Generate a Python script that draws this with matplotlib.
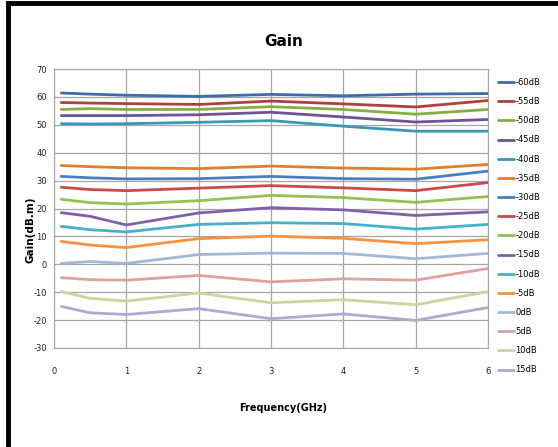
import matplotlib
matplotlib.use('Agg')
import matplotlib.pyplot as plt
from matplotlib.patches import Rectangle

plt.rcParams['font.family'] = ['DejaVu Sans']
plt.rcParams['axes.unicode_minus'] = False

# Frequency points (GHz)
freq = [0.1, 0.5, 1, 2, 3, 4, 5, 6]

# Gain (dBm) per input level
labels = ['-60dB', '-55dB', '-50dB', '-45dB', '-40dB', '-35dB', '-30dB', '-25dB',
          '-20dB', '-15dB', '-10dB', '-5dB', '0dB', '5dB', '10dB', '15dB']
gain = [
    [61.4, 61.0, 60.6, 60.2, 60.9, 60.4, 61.0, 61.2],
    [58.0, 57.8, 57.6, 57.3, 58.5, 57.5, 56.4, 58.7],
    [55.5, 55.8, 55.5, 55.5, 56.5, 55.5, 53.8, 55.5],
    [53.3, 53.3, 53.3, 53.6, 54.5, 52.8, 51.0, 51.9],
    [50.4, 50.3, 50.4, 50.9, 51.5, 49.5, 47.7, 47.7],
    [35.4, 35.0, 34.6, 34.3, 35.2, 34.5, 34.1, 35.8],
    [31.5, 31.0, 30.6, 30.7, 31.5, 30.7, 30.5, 33.4],
    [27.6, 26.8, 26.4, 27.3, 28.2, 27.4, 26.4, 29.3],
    [23.3, 22.1, 21.6, 22.8, 24.7, 23.9, 22.2, 24.3],
    [18.5, 17.2, 14.1, 18.4, 20.3, 19.5, 17.5, 18.8],
    [13.6, 12.4, 11.6, 14.3, 14.9, 14.6, 12.6, 14.3],
    [8.2, 6.9, 6.0, 9.2, 10.1, 9.3, 7.4, 8.8],
    [0.3, 1.0, 0.3, 3.5, 4.0, 3.9, 2.0, 3.9],
    [-4.8, -5.5, -5.7, -4.0, -6.3, -5.2, -5.7, -1.5],
    [-9.8, -12.2, -13.2, -10.3, -13.8, -12.7, -14.5, -9.8],
    [-15.1, -17.4, -18.0, -15.9, -19.5, -17.8, -20.1, -15.5],
]
colors = ['#3E6CA8', '#B0403D', '#88AC46', '#6E5494', '#3A9AB3', '#E07E2E',
          '#4A7EC0', '#C9494A', '#95C052', '#8060A8', '#45B0CA', '#F7923E',
          '#A2B8D9', '#DCA2A0', '#C4D8A0', '#B4A6CC']

fig = plt.figure(figsize=(5.58, 4.47), dpi=100)
ax = fig.add_axes([0.0968, 0.2215, 0.7778, 0.6241])

for y, c, lab in zip(gain, colors, labels):
    ax.plot(freq, y, color=c, lw=2.0, label=lab, solid_capstyle='round')

ax.set_xlim(0, 6)
ax.set_ylim(-30, 70)
ax.set_xticks(range(0, 7))
ax.set_yticks(range(-30, 71, 10))
ax.grid(True, color='#a6a6a6', lw=0.9)
ax.set_axisbelow(True)
for s in ax.spines.values():
    s.set_color('#a6a6a6')
ax.tick_params(length=0, labelsize=6, colors='#222222')
ax.tick_params(axis='x', pad=14)
ax.tick_params(axis='y', pad=5)

fig.text(284 / 558, 1 - 42 / 447, 'Gain', ha='center', va='center',
         fontsize=11, fontweight='bold')
fig.text(283 / 558, 1 - 408 / 447, 'Frequency(GHz)', ha='center', va='center',
         fontsize=7, fontweight='bold')
fig.text(30 / 558, 1 - 230 / 447, 'Gain(dB.m)', ha='center', va='center',
         rotation=90, fontsize=7.5, fontweight='bold')

ax.legend(loc='upper left', bbox_to_anchor=(1.015, 0.98), frameon=False,
          fontsize=6, handlelength=1.9, labelspacing=1.22, handletextpad=0.2,
          borderaxespad=0)

# black outer frame
fig.patches.append(Rectangle((8 / 558, -0.01), 1.05, 1 - 3 / 447 + 0.01,
                             transform=fig.transFigure, fill=False,
                             edgecolor='black', lw=3.5))

fig.savefig('out.png', dpi=100)
